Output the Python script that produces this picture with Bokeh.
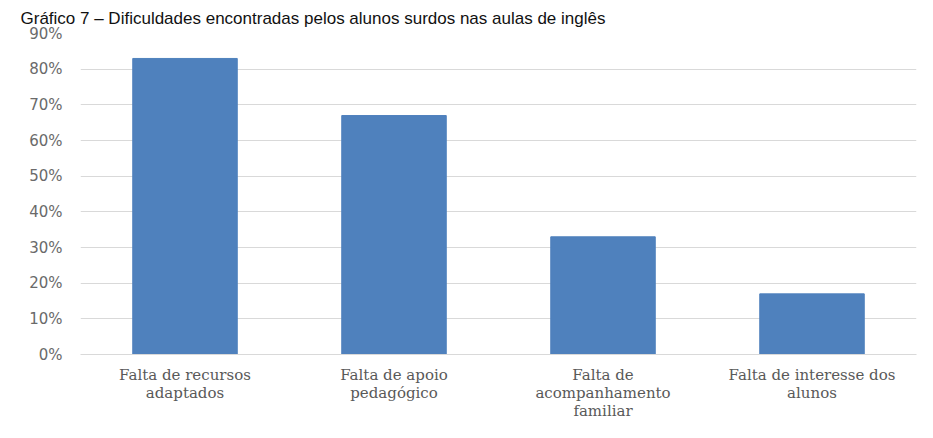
from bokeh.plotting import figure
from bokeh.models import NumeralTickFormatter, FixedTicker, Range1d
from bokeh.embed import file_html
from bokeh.resources import INLINE

title_text = "Gráfico 7 – Dificuldades encontradas pelos alunos surdos nas aulas de inglês"
categories = [
    "Falta de recursos\nadaptados",
    "Falta de apoio\npedagógico",
    "Falta de\nacompanhamento\nfamiliar",
    "Falta de interesse dos\nalunos",
]
values = [0.83, 0.67, 0.33, 0.17]
y_ticks = [0, 0.1, 0.2, 0.3, 0.4, 0.5, 0.6, 0.7, 0.8, 0.9]

p = figure(
    x_range=categories,
    y_range=Range1d(0, 0.9),
    width=917, height=422,
    output_backend="svg", toolbar_location=None,
    min_border_left=80, min_border_right=1,
    min_border_top=33, min_border_bottom=60,
    title=title_text,
)
p.outline_line_color = None
p.background_fill_color = "white"
p.border_fill_color = "white"

p.title.text_font = "Liberation Sans"
p.title.text_font_size = "17px"
p.title.text_font_style = "normal"
p.title.text_color = "#111111"
p.title.align = "left"
p.title.offset = -60
p.title.standoff = 12

p.vbar(x=categories, top=values, width=0.5, color="#4F81BD")

p.yaxis.ticker = FixedTicker(ticks=y_ticks)
p.yaxis.formatter = NumeralTickFormatter(format="0%")
p.yaxis.axis_line_color = None
p.yaxis.major_tick_line_color = None
p.yaxis.minor_tick_line_color = None
p.yaxis.major_label_standoff = 12
p.yaxis.major_label_text_font = "DejaVu Sans"
p.yaxis.major_label_text_font_size = "15px"
p.yaxis.major_label_text_color = "#6a6a6a"

p.xaxis.axis_line_color = "#d9d9d9"
p.xaxis.major_tick_line_color = None
p.xaxis.minor_tick_line_color = None
p.xaxis.major_label_standoff = 5
p.xaxis.major_label_text_font = "DejaVu Serif"
p.xaxis.major_label_text_font_size = "15px"
p.xaxis.major_label_text_color = "#595959"
p.xaxis.major_label_text_line_height = 1.0

p.xgrid.grid_line_color = None
p.ygrid.grid_line_color = "#d9d9d9"
p.ygrid.ticker = FixedTicker(ticks=y_ticks)

open("out.html", "w").write(file_html(p, INLINE))
